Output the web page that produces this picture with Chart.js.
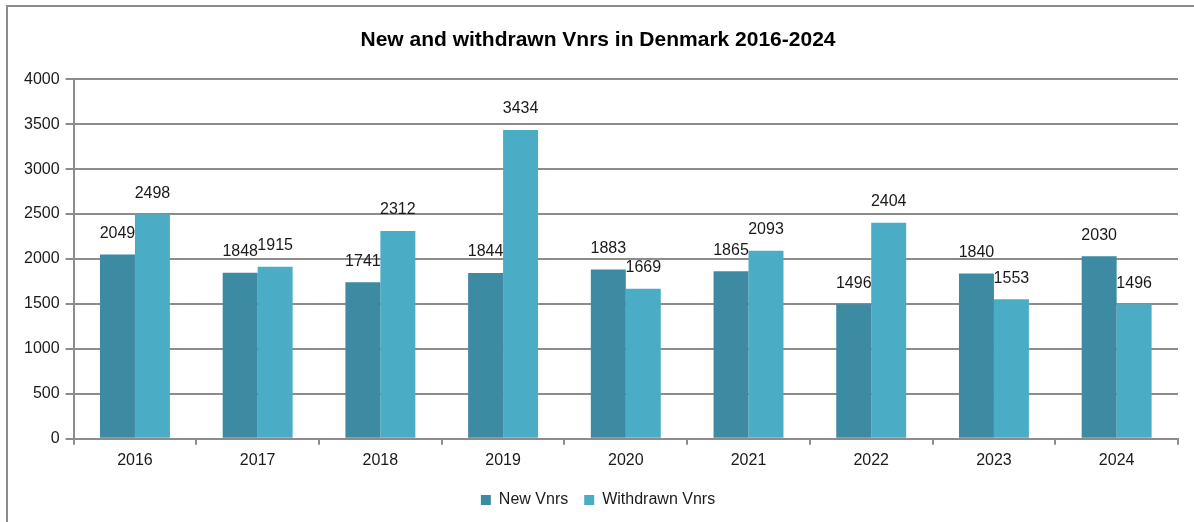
<!DOCTYPE html>
<html>
<head>
<meta charset="utf-8">
<script src="https://cdn.jsdelivr.net/npm/chart.js@4.4.1/dist/chart.umd.min.js"></script>
<style>
  body { margin: 0; background: #fff; }
  #box { position: absolute; left: 6px; top: 5px; width: 1200px; height: 530px; border-left: 2px solid #8c8c8c; border-top: 2px solid #8c8c8c; }
  #wrap { position: absolute; left: 0; top: 0; width: 1194px; height: 522px; }
</style>
</head>
<body>
<div id="box"></div>
<div id="wrap"><canvas id="vnrs"></canvas></div>
<script>
var years = ["2016", "2017", "2018", "2019", "2020", "2021", "2022", "2023", "2024"];
var newVnrs = [2049, 1848, 1741, 1844, 1883, 1865, 1496, 1840, 2030];
var withdrawnVnrs = [2498, 1915, 2312, 3434, 1669, 2093, 2404, 1553, 1496];
var yTicks = [0, 500, 1000, 1500, 2000, 2500, 3000, 3500, 4000];

// values above the bars
var barLabels = {
  id: "barLabels",
  afterDatasetsDraw: function(chart) {
    var ctx = chart.ctx;
    ctx.save();
    ctx.font = "16px 'Liberation Sans', Arial, sans-serif";
    ctx.fillStyle = "#1a1a1a";
    ctx.textAlign = "center";
    ctx.textBaseline = "bottom";
    chart.data.datasets.forEach(function(ds, i) {
      chart.getDatasetMeta(i).data.forEach(function(bar, j) {
        ctx.fillText(ds.data[j], bar.x, bar.y - 13);
      });
    });
    ctx.restore();
  }
};

new Chart("vnrs", {
  type: "bar",
  data: {
    labels: years,
    datasets: [{
      label: "New Vnrs",
      data: newVnrs,
      backgroundColor: "#3c8ba3"
    }, {
      label: "Withdrawn Vnrs",
      data: withdrawnVnrs,
      backgroundColor: "#4bacc6"
    }]
  },
  options: {
    responsive: true,
    maintainAspectRatio: false,
    animation: false,
    layout: { padding: { left: 18, right: 16, top: 8, bottom: 4 } },
    datasets: { bar: { categoryPercentage: 0.57, barPercentage: 1.0 } },
    plugins: {
      title: {
        display: true,
        text: "New and withdrawn Vnrs in Denmark 2016-2024",
        color: "#000",
        font: { family: "'Liberation Sans', Arial, sans-serif", size: 21, weight: "bold" },
        padding: { top: 20, bottom: 26 }
      },
      legend: {
        position: "bottom",
        labels: {
          color: "#1a1a1a",
          font: { family: "'Liberation Sans', Arial, sans-serif", size: 16 },
          boxWidth: 10, boxHeight: 10, padding: 16
        }
      },
      tooltip: { enabled: false }
    },
    scales: {
      x: {
        grid: { display: true, drawOnChartArea: false, color: "#8c8c8c", lineWidth: 2, tickLength: 6, offset: true },
        border: { color: "#8c8c8c", width: 2 },
        ticks: { color: "#1a1a1a", font: { family: "'Liberation Sans', Arial, sans-serif", size: 16 }, padding: 6 }
      },
      y: {
        min: 0, max: 4000,
        afterBuildTicks: function(axis) { axis.ticks = yTicks.map(function(v) { return { value: v }; }); },
        grid: { color: "#8c8c8c", lineWidth: 2, tickLength: 8 },
        border: { color: "#8c8c8c", width: 2 },
        ticks: {
          color: "#1a1a1a", font: { family: "'Liberation Sans', Arial, sans-serif", size: 16 }, padding: 6,
          callback: function(v) { return String(v); }
        }
      }
    }
  },
  plugins: [barLabels]
});
</script>
</body>
</html>
